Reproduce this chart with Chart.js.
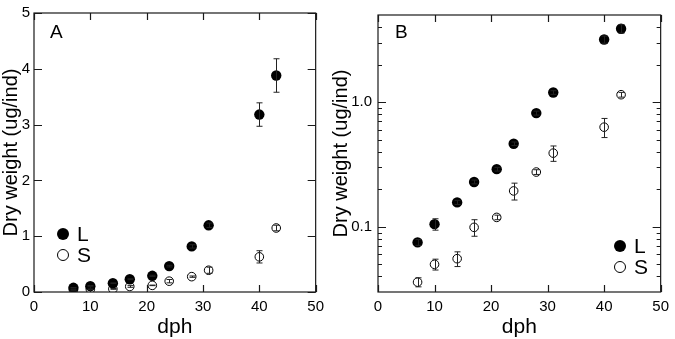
<!DOCTYPE html>
<html>
<head>
<meta charset="utf-8">
<script src="https://cdn.jsdelivr.net/npm/chart.js@4.4.1/dist/chart.umd.min.js"></script>
<style>
  html, body { margin: 0; padding: 0; background: #fff; }
  #wrap { position: relative; width: 675px; height: 339px; }
  #boxA { position: absolute; left: 0; top: 0; width: 330px; height: 339px; }
  #boxB { position: absolute; left: 330px; top: 0; width: 345px; height: 339px; }
</style>
</head>
<body>
<div id="wrap">
  <div id="boxA"><canvas id="chartA" width="330" height="339"></canvas></div>
  <div id="boxB"><canvas id="chartB" width="345" height="339"></canvas></div>
</div>
<script>
// Days post hatch
const days = [7, 10, 14, 17, 21, 24, 28, 31, 40, 43];

// Dry weight (ug/ind), large (L) and small (S) groups, with error bars
const weightL = [0.075, 0.105, 0.157, 0.229, 0.29, 0.464, 0.817, 1.195, 3.18, 3.88];
const errL    = [0.004, 0.011, 0.006, 0.008, 0.01, 0.015, 0.03, 0.04, 0.21, 0.3];
const weightS = [0.036, 0.050, 0.0555, 0.099, 0.119, 0.194, 0.275, 0.39, 0.63, 1.147];
const errS    = [0.003, 0.005, 0.0075, 0.015, 0.005, 0.03, 0.012, 0.055, 0.11, 0.05];

// Axis ticks
const xTicks = [0, 10, 20, 30, 40, 50];
const yTicksA = [0, 1, 2, 3, 4, 5];
const yMajorB = [0.1, 1];
const yMinorB = [0.04, 0.05, 0.06, 0.07, 0.08, 0.09, 0.2, 0.3, 0.4, 0.5, 0.6, 0.7, 0.8, 0.9, 2, 3, 4];

const FONT = '"Liberation Sans", Arial, Helvetica, sans-serif';

function points(ys) {
    return days.map((d, i) => ({ x: d, y: ys[i] }));
}

/**
 * Frame round the plot area with inward ticks on all four sides
 */
const framePlugin = {
    id: 'frame',
    afterDraw(chart, args, opts) {
        const { ctx, chartArea: a } = chart;
        const x = chart.scales.x;
        const y = chart.scales.y;
        const minor = opts.minor || [];
        ctx.save();
        ctx.strokeStyle = '#1a1a1a';
        ctx.lineWidth = 1.2;
        ctx.strokeRect(a.left, a.top, a.right - a.left, a.bottom - a.top);
        ctx.beginPath();
        x.ticks.forEach(t => {
            const px = Math.round(x.getPixelForValue(t.value)) + 0.5;
            ctx.moveTo(px, a.bottom);
            ctx.lineTo(px, a.bottom - 7);
            ctx.moveTo(px, a.top);
            ctx.lineTo(px, a.top + 7);
        });
        y.ticks.forEach(t => {
            const py = Math.round(y.getPixelForValue(t.value)) + 0.5;
            const len = minor.includes(t.value) ? 4 : 8;
            ctx.moveTo(a.left, py);
            ctx.lineTo(a.left + len, py);
            ctx.moveTo(a.right, py);
            ctx.lineTo(a.right - len, py);
        });
        ctx.stroke();

        // x axis title, centred on the middle of the x scale
        ctx.fillStyle = '#000';
        ctx.font = '21px ' + FONT;
        ctx.textAlign = 'center';
        ctx.textBaseline = 'alphabetic';
        ctx.fillText('dph', x.getPixelForValue((x.min + x.max) / 2), 333);
        ctx.restore();
    }
};

/**
 * Vertical error bars with small caps
 */
const errorBarPlugin = {
    id: 'errorBars',
    afterDatasetsDraw(chart) {
        const { ctx } = chart;
        const x = chart.scales.x;
        const y = chart.scales.y;
        ctx.save();
        ctx.strokeStyle = '#222';
        ctx.lineWidth = 1;
        chart.data.datasets.forEach(ds => {
            if (!ds.errors) return;
            ds.data.forEach((p, i) => {
                const e = ds.errors[i];
                const px = Math.round(x.getPixelForValue(p.x)) + 0.5;
                const lo = Math.max(p.y - e, y.min);
                const top = y.getPixelForValue(p.y + e);
                const bot = y.getPixelForValue(lo);
                ctx.beginPath();
                ctx.moveTo(px, top);
                ctx.lineTo(px, bot);
                ctx.moveTo(px - 3, top);
                ctx.lineTo(px + 3, top);
                ctx.moveTo(px - 3, bot);
                ctx.lineTo(px + 3, bot);
                ctx.stroke();
            });
        });
        ctx.restore();
    }
};

/**
 * Panel letter and the small in-plot legend
 */
const annotatePlugin = {
    id: 'annotate',
    afterDraw(chart, args, opts) {
        const { ctx } = chart;
        ctx.save();
        ctx.fillStyle = '#000';
        ctx.textAlign = 'left';
        ctx.textBaseline = 'middle';
        ctx.font = '19px ' + FONT;
        ctx.fillText(opts.letter, opts.letterX, opts.letterY);

        ctx.font = '21px ' + FONT;
        // filled marker, L
        ctx.beginPath();
        ctx.arc(opts.legendX, opts.legendY, 6, 0, Math.PI * 2);
        ctx.fill();
        ctx.fillText('L', opts.legendX + 14, opts.legendY + 1);
        // open marker, S
        ctx.beginPath();
        ctx.lineWidth = 1;
        ctx.strokeStyle = '#000';
        ctx.arc(opts.legendX, opts.legendY + 21, 5.5, 0, Math.PI * 2);
        ctx.stroke();
        ctx.fillText('S', opts.legendX + 14, opts.legendY + 22);
        ctx.restore();
    }
};

function makeChart(canvasId, cfg) {
    const ctx = document.getElementById(canvasId).getContext('2d');
    return new Chart(ctx, {
        type: 'scatter',
        data: {
            datasets: [{
                label: 'L',
                data: points(weightL),
                errors: errL,
                pointStyle: 'circle',
                pointRadius: 5.2,
                backgroundColor: '#000',
                borderColor: '#000',
                borderWidth: 0
            }, {
                label: 'S',
                data: points(weightS),
                errors: errS,
                pointStyle: 'circle',
                pointRadius: 4.3,
                backgroundColor: 'rgba(255,255,255,0)',
                borderColor: '#000',
                borderWidth: 1
            }]
        },
        options: {
            responsive: false,
            animation: false,
            layout: { padding: { left: 0, right: cfg.padRight, top: 6, bottom: 0 } },
            plugins: {
                legend: { display: false },
                tooltip: { enabled: false },
                frame: { minor: cfg.minor },
                annotate: cfg.annotate
            },
            scales: {
                x: {
                    type: 'linear',
                    min: 0,
                    max: 50,
                    afterBuildTicks: s => { s.ticks = xTicks.map(v => ({ value: v })); },
                    afterFit: s => { s.height = 47; },
                    grid: { display: false, drawTicks: false },
                    border: { display: false },
                    ticks: {
                        padding: 6,
                        color: '#000',
                        font: { family: FONT, size: 15 },
                        callback: v => String(v)
                    }
                },
                y: Object.assign({
                    afterFit: s => { s.width = cfg.yWidth; },
                    grid: { display: false, drawTicks: false },
                    border: { display: false },
                    title: {
                        display: true,
                        text: 'Dry weight (ug/ind)',
                        color: '#000',
                        font: { family: FONT, size: 20 },
                        padding: { top: -1, bottom: 0 }
                    }
                }, cfg.y)
            }
        },
        plugins: [framePlugin, errorBarPlugin, annotatePlugin]
    });
}

// Panel A, linear
makeChart('chartA', {
    padRight: 10,
    yWidth: 34,
    minor: [],
    annotate: { letter: 'A', letterX: 50, letterY: 33, legendX: 63, legendY: 234 },
    y: {
        type: 'linear',
        min: 0,
        max: 5,
        afterBuildTicks: s => { s.ticks = yTicksA.map(v => ({ value: v })); },
        ticks: {
            padding: 4,
            color: '#000',
            font: { family: FONT, size: 15 },
            callback: v => String(v)
        }
    }
});

// Panel B, logarithmic
makeChart('chartB', {
    padRight: 11,
    yWidth: 48,
    minor: yMinorB,
    annotate: { letter: 'B', letterX: 65, letterY: 33, legendX: 290, legendY: 246 },
    y: {
        type: 'logarithmic',
        min: 0.03,
        max: 5,
        afterBuildTicks: s => {
            s.ticks = yMajorB.concat(yMinorB).sort((a, b) => a - b).map(v => ({ value: v }));
        },
        ticks: {
            padding: 6,
            color: '#000',
            font: { family: FONT, size: 15 },
            autoSkip: false,
            callback: v => (yMajorB.includes(v) ? v.toFixed(1) : '')
        }
    }
});
</script>
</body>
</html>
